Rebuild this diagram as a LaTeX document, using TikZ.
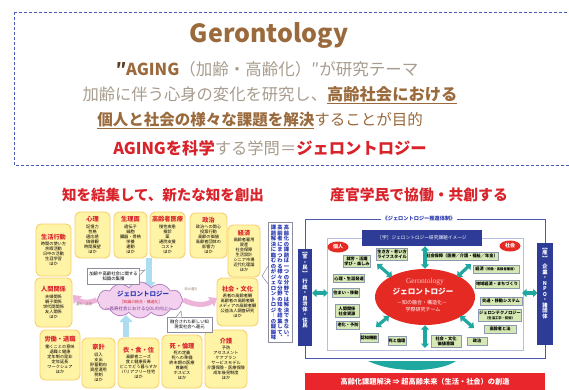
\documentclass[tikz,border=0pt]{standalone}
\usepackage{fontspec}
\setmainfont{Noto Sans CJK JP}
\newfontfamily\serifen{Liberation Serif}
\usetikzlibrary{shapes.symbols,shapes.geometric,arrows.meta}
\definecolor{dashblue}{HTML}{4B5BB5}
\definecolor{brownc}{HTML}{9A6A3C}
\definecolor{darkbrown}{HTML}{5A3A20}
\definecolor{lgray}{HTML}{A89C8E}
\definecolor{jred}{HTML}{D9232B}
\definecolor{yfill}{HTML}{FFF3A6}
\definecolor{yborder}{HTML}{F7CF6A}
\definecolor{cloudfill}{HTML}{F2D0EE}
\definecolor{cloudedge}{HTML}{B583C2}
\definecolor{pinkarr}{HTML}{EDB4DA}
\definecolor{lblue}{HTML}{ADDDF0}
\definecolor{navy}{HTML}{2E3C97}
\definecolor{jblue}{HTML}{2A3AB0}
\definecolor{purp}{HTML}{7A3A90}
\definecolor{frameblue}{HTML}{4A58AE}
\definecolor{innerframe}{HTML}{B7BEE2}
\definecolor{gfill}{HTML}{D6E9B4}
\definecolor{gedge}{HTML}{8A98B0}
\definecolor{tealc}{HTML}{1FA8A0}
\definecolor{barred}{HTML}{E8262B}
\definecolor{ellred}{HTML}{E52A24}
\definecolor{pinklight}{HTML}{F8C4C4}
\definecolor{callgray}{HTML}{8C8C9C}
\newcommand\ulb[1]{\setbox0\hbox{#1}\rlap{\color{brownc}\rule[-3pt]{\wd0}{1.3pt}}\box0}
\newcommand\yt[1]{{\fontsize{6.2}{7}\selectfont\bfseries\color{jred}#1}\\[1.5pt]}
\tikzset{
 ybox/.style={draw=yborder, fill=yfill, line width=0.9pt, rounded corners=5pt, align=center, inner sep=1pt, font=\fontsize{4.2}{5}\selectfont},
 gbox/.style={draw=gedge, fill=gfill, line width=0.6pt, inner sep=0.8pt, align=center, font=\fontsize{4.2}{5}\selectfont\bfseries},
 tarr/.style={tealc, line width=3.2pt, {Triangle[width=8pt,length=4.5pt]}-{Triangle[width=8pt,length=4.5pt]}},
 frame/.style={frameblue, line width=0.9pt},
 callout/.style={draw=callgray, fill=white, line width=0.5pt, align=center},
 pinkarrow/.style={pinkarr, line width=5pt, -{Triangle[width=11pt,length=7pt]}},
 bluearrow/.style={lblue, line width=6.5pt, -{Triangle[width=13pt,length=7pt]}},
 vcolumn/.style={anchor=north, align=center, inner sep=0, font=\fontsize{5.3}{5.5}\selectfont\bfseries, text=jblue},
 wcolumn/.style={anchor=north, align=center, inner sep=0, font=\fontsize{5.3}{5.5}\selectfont\bfseries, text=white}
}
\begin{document}
\begin{tikzpicture}[x=1pt,y=-1pt]
\useasboundingbox (0,0) rectangle (569,390);
\fill[white] (0,0) rectangle (569,390);
% ---------- top box ----------
\draw[dashblue, line width=0.8pt, dash pattern=on 3pt off 2pt] (14,12) rectangle (585,165);
\node[anchor=base, font=\fontsize{25}{30}\selectfont\bfseries, text=brownc, inner sep=0] (title) at (269,43) {Gerontology};
\node[anchor=base, font=\fontsize{16.5}{20}\selectfont, text=lgray, inner sep=0] (l2) at (267,76) {{\bfseries\color{darkbrown}″}{\bfseries\color{brownc}AGING}（加齢・高齢化）″が研究テーマ};
\node[anchor=base, font=\fontsize{16.3}{20}\selectfont, text=lgray, inner sep=0] (l3) at (270,101) {加齢に伴う心身の変化を研究し、\ulb{\bfseries\color{brownc}高齢社会における}};
\node[anchor=base, font=\fontsize{15.5}{20}\selectfont, text=lgray, inner sep=0] (l4) at (260,126) {\ulb{\bfseries\color{brownc}個人と社会の様々な課題を解決}することが目的};
\node[anchor=base, font=\fontsize{16.3}{20}\selectfont, text=lgray, inner sep=0] (l5) at (270,154) {{\bfseries\color{jred}AGINGを科学}する学問＝{\bfseries\color{jred}ジェロントロジー}};
% ---------- lower left ----------
\node[anchor=base, font=\fontsize{14.5}{16}\selectfont\bfseries, text=jred, inner sep=0] (lt) at (163,200) {知を結集して、新たな知を創出};
\node[ybox, minimum width=35pt, minimum height=52pt] (seikatsu) at (53.5,250) {\yt{生活行動}時間の使い方\\余暇活動\\日中の活動\\生涯学習\\ほか};
\node[ybox, minimum width=35pt, minimum height=46pt] (shinri) at (92.5,235) {\yt{心理}記憶力\\性格\\適応感\\価値観\\時間展望\\ほか};
\node[ybox, minimum width=33pt, minimum height=46pt] (seiri) at (130.5,235) {\yt{生理面}遺伝子\\細胞\\臓器・骨格\\栄養\\運動\\ほか};
\node[ybox, minimum width=35pt, minimum height=46pt] (iryo) at (167.5,235) {\yt{高齢者医療}慢性疾患\\検診\\薬\\通院支援\\コスト\\ほか};
\node[ybox, minimum width=37pt, minimum height=45pt] (seiji) at (208.5,235.5) {\yt{政治}政治への関心\\投票行動\\高齢の価値\\高齢者団体の\\影響力\\ほか};
\node[ybox, minimum width=32pt, minimum height=52pt] (keizai) at (244,251) {\yt{経済}高齢者雇用\\資産\\社会保障\\生活設計\\シニア市場\\近代化理論\\ほか};
\node[ybox, minimum width=37pt, minimum height=49pt] (ningen) at (53.5,302.5) {\yt{人間関係}夫婦関係\\親子関係\\世代間関係\\友人関係\\ほか};
\node[ybox, minimum width=40pt, minimum height=50pt] (rodo) at (60,355) {\yt{労働・退職}働くことの意味\\退職と健康\\定年制の是非\\定年延長\\ワークシェア\\ほか};
\node[ybox, minimum width=33pt, minimum height=50pt] (kakei) at (98.5,363) {\yt{家計}収入\\支出\\貯蓄動向\\資産運用\\税制\\ほか};
\node[ybox, minimum width=41pt, minimum height=50pt] (ishoku) at (138.5,363) {\yt{衣・食・住}高齢者ニーズ\\食と健康長寿\\どこでどう暮らすか\\バリアフリー住宅\\ほか};
\node[ybox, minimum width=40pt, minimum height=53pt] (shi) at (182,361.5) {\yt{死・倫理}死の定義\\死への準備\\終末期の医療\\尊厳死\\ホスピス\\ほか};
\node[ybox, minimum width=42pt, minimum height=58pt] (kaigo) at (226,359) {\yt{介護}予防\\アセスメント\\ケアプラン\\サービスモデル\\介護保険・医療保険\\成年後見制度\\ほか};
\node[ybox, minimum width=41pt, minimum height=48pt] (shakai) at (237.5,302) {\yt{社会・文化}若者の高齢者観\\高齢者の高齢者観\\メディアの高齢者観\\公益法人調査研究\\ほか};
% arrows to cloud
\coordinate (dtop) at (149,258);
\coordinate (dbot) at (149,289);
\draw[bluearrow] (dtop) -- (dbot);
\coordinate (utop) at (126,315);
\coordinate (ubot) at (126,337);
\draw[bluearrow] (ubot) -- (utop);
% cloud
\node[cloud, cloud puffs=12, cloud puff arc=110, aspect=2.4, draw=cloudedge, fill=cloudfill, line width=0.8pt, minimum width=86pt, minimum height=36pt, inner sep=0pt] (cloud) at (140,300) {};
\node[font=\fontsize{6.5}{7}\selectfont\bfseries, text=jblue, inner sep=0] (cj) at (143,294) {ジェロントロジー};
\node[font=\fontsize{3.9}{4.5}\selectfont, text=jred, inner sep=0] (cr) at (141,302) {［知識の統合・構造化］};
\node[font=\fontsize{4.5}{5}\selectfont, text=purp, inner sep=0] (cq) at (139,309.5) {〜長寿社会におけるQOLの向上〜};
% pink arrows
\coordinate (pl) at (73,295);
\coordinate (pr) at (217,298);
\draw[pinkarrow] (cloud.west) to[bend left=35] (pl);
\draw[pinkarrow] (cloud.east) to[bend right=30] (pr);
\node[font=\fontsize{3.2}{4}\selectfont, text=darkbrown!70, inner sep=0] (plab) at (84,304) {還元・活用};
\node[font=\fontsize{3.2}{4}\selectfont, text=darkbrown!70, inner sep=0] (prlab) at (191,289) {知の還元};
% callouts
\node[callout, font=\fontsize{4.4}{5.5}\selectfont, minimum width=52pt, minimum height=16pt, inner sep=1pt] (c1) at (113.5,276.5) {加齢や高齢社会に関する\\知識の集積};
\filldraw[draw=callgray, fill=white, line width=0.5pt] (139.5,271) -- (145,270) -- (139.5,275);
\node[callout, font=\fontsize{4.3}{5.3}\selectfont, minimum width=45pt, minimum height=15pt, inner sep=1pt] (c2) at (189.5,324.5) {融合された新しい知\\現実社会へ還元};
\filldraw[draw=callgray, fill=white, line width=0.5pt] (176,317.3) -- (181,311) -- (182,317.3);
% vertical callout
\node[callout, minimum width=24pt, minimum height=120pt, inner sep=0pt] (vbox) at (280,282) {};
\filldraw[draw=callgray, fill=white, line width=0.5pt] (268.2,266) -- (262,276) -- (268.2,284);
\node[vcolumn] (vt1) at (286.5,225) {高\\齢\\化\\の\\課\\題\\は\\一\\つ\\の\\分\\野\\で\\は\\解\\決\\で\\き\\な\\い\\︒};
\node[vcolumn] (vt2) at (280,225) {高\\齢\\者\\に\\ま\\つ\\わ\\る\\様\\々\\な\\分\\野\\の\\知\\を\\結\\集\\し\\て\\︑};
\node[vcolumn] (vt3) at (273.5,225) {課\\題\\解\\決\\に\\臨\\む\\の\\が\\ジ\\ェ\\ロ\\ン\\ト\\ロ\\ジ\\︱\\の\\醍\\醐\\味};
% ---------- lower right ----------
\node[anchor=base, font=\fontsize{14.8}{16}\selectfont\bfseries, text=jred, inner sep=0] (rt) at (419,200) {産官学民で協働・共創する};
\node[font=\fontsize{5.2}{6}\selectfont\bfseries, text=jblue, inner sep=1pt] (suishin) at (419,219) {《ジェロントロジー推進体制》};
\node[fill=navy, minimum width=14pt, minimum height=97pt, inner sep=0] (kanmin) at (305,297.5) {};
\node[fill=navy, minimum width=16pt, minimum height=102pt, inner sep=0] (san) at (545,294) {};
\node[wcolumn] (kanmint) at (305,252) {︻\\官\\・\\民\\︼\\[3pt]行\\政\\・\\自\\治\\体\\・\\住\\民};
\node[wcolumn] (sant) at (545,248) {︻\\産\\︼\\[3pt]企\\業\\・\\N\\P\\O\\・\\諸\\団\\体};
\draw[frame] (kanmin.north) |- (suishin.west);
\draw[frame] (suishin.east) -| (san.north);
\draw[frame] (kanmin.south) -- ++(0,12) -| (san.south);
\node[draw=innerframe, line width=0.8pt, minimum width=196pt, minimum height=112pt, inner sep=0] (inner) at (425,294) {};
\node[fill=navy, text=white, minimum width=120pt, minimum height=16pt, inner sep=0, font=\fontsize{4.7}{5}\selectfont] (gaku) at (422,238) {［学］ジェロントロジー研究課題イメージ};
\node[ellipse, fill=ellred, text=white, font=\fontsize{5}{5}\selectfont\bfseries, minimum width=21pt, minimum height=11pt, inner sep=0] (kojin) at (338,247) {個人};
\node[ellipse, fill=ellred, text=white, font=\fontsize{5}{5}\selectfont\bfseries, minimum width=21pt, minimum height=11pt, inner sep=0] (shakaiL) at (510,246) {社会};
\node[ellipse, fill=ellred, minimum width=100pt, minimum height=56pt, inner sep=0] (core) at (425,297) {};
\node[font=\serifen\fontsize{7.5}{8}\selectfont, text=pinklight, inner sep=0] (coreen) at (425,282) {Gerontology};
\node[font=\fontsize{7.6}{8}\selectfont\bfseries, text=white, inner sep=0] (corejp) at (423,292) {ジェロントロジー};
\node[font=\fontsize{5}{6}\selectfont, text=white, inner sep=0] (coresub) at (422,303) {－知の融合・構造化－};
\node[font=\fontsize{5}{6}\selectfont, text=white, inner sep=0] (coreteam) at (423,310) {学際研究チーム};
% green boxes
\node[gbox, minimum width=26pt, minimum height=12pt] (g1) at (357,261) {就労・活躍\\学び・楽しみ};
\node[gbox, minimum width=29pt, minimum height=12pt] (g2) at (392,254) {生き方・老い方\\ライフスタイル};
\node[gbox, minimum width=30pt, minimum height=8pt] (g3) at (349,278.5) {心理・生涯発達};
\node[gbox, minimum width=25pt, minimum height=9pt] (g4) at (346,293) {住まい・移動};
\node[gbox, minimum width=24pt, minimum height=13pt] (g5) at (347,311) {人間関係\\社会資源};
\node[gbox, minimum width=21pt, minimum height=8pt] (g6) at (348,325) {老化・予防};
\node[gbox, minimum width=18pt, minimum height=9pt] (g7) at (369,337.5) {認知機能};
\node[gbox, minimum width=17pt, minimum height=9pt] (g8) at (397,341) {死と倫理};
\node[gbox, minimum width=70pt, minimum height=8pt] (g9) at (462,256) {社会保障（医療／介護・福祉／年金）};
\node[gbox, minimum width=46pt, minimum height=8pt] (g10) at (496,269) {経済{\fontsize{3.3}{4}\selectfont（労働・高齢者雇用）}};
\node[gbox, minimum width=44pt, minimum height=8pt] (g11) at (497,284) {地域経済・まちづくり};
\node[gbox, minimum width=42pt, minimum height=8pt] (g12) at (501,301) {交通・移動システム};
\node[gbox, minimum width=40pt, minimum height=12pt] (g13) at (500,315.5) {ジェロンテクノロジー\\{\fontsize{3.3}{4}\selectfont（生活工学・技術）}};
\node[gbox, minimum width=32pt, minimum height=8pt] (g14) at (500,329) {高齢者と法};
\node[gbox, minimum width=30pt, minimum height=12pt] (g15) at (446,341) {社会・文化\\価値意識};
\node[gbox, minimum width=20pt, minimum height=8pt] (g16) at (477,341) {政治};
% teal arrows
\draw[tarr] (gaku.south -| core.north) -- (core.north);
\coordinate (a1s) at (377,264); \coordinate (a1e) at (392,277);
\draw[tarr] (a1s) -- (a1e);
\coordinate (a2s) at (376,327); \coordinate (a2e) at (389,316);
\draw[tarr] (a2s) -- (a2e);
\coordinate (a3s) at (457,277); \coordinate (a3e) at (471,264);
\draw[tarr] (a3s) -- (a3e);
\coordinate (a4s) at (460,316); \coordinate (a4e) at (474,328);
\draw[tarr] (a4s) -- (a4e);
\coordinate (a5s) at (312,293); \coordinate (a5e) at (328,293);
\draw[tarr] (a5s) -- (a5e);
\coordinate (a6s) at (522,293); \coordinate (a6e) at (537.5,293);
\draw[tarr] (a6s) -- (a6e);
\coordinate (cb) at (425,348);
\draw[tarr] (core.south) -- (cb);
% bottom wedge and bar
\fill[tealc] (368,361) .. controls (395,374) and (440,372) .. (456,361) -- cycle;
\node[fill=barred, text=white, minimum width=240pt, minimum height=17pt, inner sep=0, font=\fontsize{7.2}{8}\selectfont\bfseries] (bar) at (425,381.5) {高齢化課題解決 ⇒ 超高齢未来（生活・社会）の創造};
\end{tikzpicture}
\end{document}
